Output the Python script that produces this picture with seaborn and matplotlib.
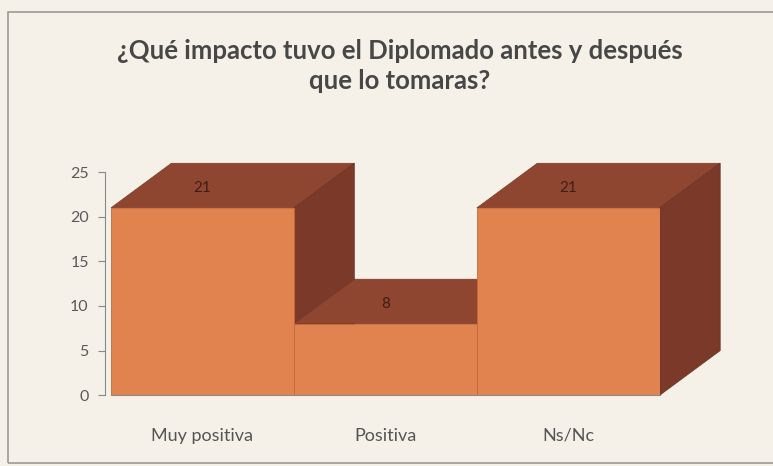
import matplotlib.pyplot as plt
import seaborn as sns
import pandas as pd
from matplotlib.patches import Polygon, Rectangle

# Datos
categorias = ["Muy positiva", "Positiva", "Ns/Nc"]
valores = [21, 8, 21]
titulo = "¿Qué impacto tuvo el Diplomado antes y después\nque lo tomaras?"

df = pd.DataFrame({"respuesta": categorias, "cantidad": valores})

sns.set_style("white")
plt.rcParams["font.family"] = ["Lato", "DejaVu Sans"]

fondo = "#f5f1e8"
frente = "#e0834f"
arriba = "#8f4631"
lado = "#7b3a29"

fig = plt.figure(figsize=(7.73, 4.66), dpi=100, facecolor=fondo)
ax = fig.add_axes([0.1436, 0.152, 0.71, 0.4785])
ax.set_facecolor("none")

# marco del grafico
fig.patches.append(Rectangle((0.010, 0.006), 1.2, 0.968, transform=fig.transFigure,
                             fill=False, edgecolor="#9a9a94", linewidth=1.2))

sns.barplot(data=df, x="respuesta", y="cantidad", color=frente, width=1.0,
            saturation=1, edgecolor="#c46a3c", linewidth=0.6, ax=ax, zorder=3)

# profundidad de las barras (efecto 3D)
dx, dy = 0.33, 5.0
for i, v in enumerate(valores):
    x0, x1 = i - 0.5, i + 0.5
    top = Polygon([(x0, v), (x1, v), (x1 + dx, v + dy), (x0 + dx, v + dy)],
                  closed=True, facecolor=arriba, edgecolor="#7a3826", linewidth=0.5,
                  clip_on=False, zorder=2)
    side = Polygon([(x1, 0), (x1 + dx, dy), (x1 + dx, v + dy), (x1, v)],
                   closed=True, facecolor=lado, edgecolor="#6a3022", linewidth=0.5,
                   clip_on=False, zorder=2)
    ax.add_patch(top)
    ax.add_patch(side)
    ax.text(i, v + dy * 0.45, str(v), ha="center", va="center",
            fontsize=11, color="#3f1e14", zorder=4)

ax.set_xlim(-0.5, 2.5)
ax.set_ylim(0, 25)
ax.set_yticks([0, 5, 10, 15, 20, 25])
ax.set_xlabel("")
ax.set_ylabel("")
ax.tick_params(axis="y", left=True, length=5, color="#888888", labelsize=11.5,
               labelcolor="#5a5a5a", pad=7)
ax.tick_params(axis="x", bottom=False, labelsize=13, labelcolor="#555555", pad=20)
sns.despine(ax=ax, top=True, right=True)
ax.spines["left"].set_color("#888888")
ax.spines["bottom"].set_color("#888888")
ax.spines["left"].set_position(("outward", 4))

fig.text(0.517, 0.859, titulo, ha="center", va="center", fontsize=18.5,
         fontweight="bold", color="#474747", linespacing=1.3)

fig.savefig("out.png", dpi=100, facecolor=fondo)
